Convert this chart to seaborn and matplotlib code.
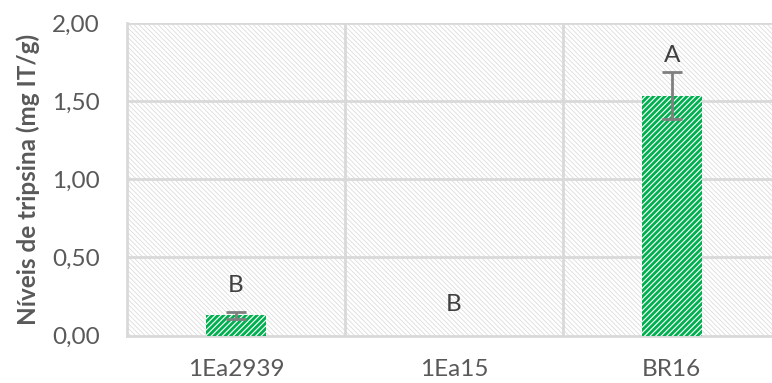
import matplotlib
matplotlib.use("Agg")
import matplotlib.pyplot as plt
import seaborn as sns
import pandas as pd
from matplotlib.patches import Rectangle
from matplotlib.ticker import FuncFormatter

# Data
genotypes = ["1Ea2939", "1Ea15", "BR16"]
tripsina = [0.13, 0.0, 1.535]
erro = [0.022, 0.0, 0.15]
letras = ["B", "B", "A"]
letra_y = [0.32, 0.20, 1.79]

df = pd.DataFrame({"genotipo": genotypes, "tripsina": tripsina})

sns.set_theme(style="white")
plt.rcParams["font.family"] = ["Lato", "DejaVu Sans"]
plt.rcParams["hatch.linewidth"] = 2.0

GREEN = "#00B050"
GRID = "#D9D9D9"
TEXT = "#595959"
FS = 17.5

fig = plt.figure(figsize=(7.72, 3.83), dpi=100)
ax = fig.add_axes([127 / 772, 1 - 335.5 / 383, 1 - 127 / 772, (335.5 - 23) / 383])

sns.barplot(data=df, x="genotipo", y="tripsina", ax=ax, color=GREEN,
            width=0.275, errorbar=None, zorder=3)

for bar in ax.patches:
    bar.set_facecolor("white")
    bar.set_edgecolor(GREEN)
    bar.set_linewidth(0)
    bar.set_hatch("/" * 6)
    if hasattr(bar, "set_hatch_linewidth"):
        bar.set_hatch_linewidth(2.0)

# hatched plot-area background
bg = Rectangle((0, 0), 1, 1, transform=ax.transAxes, facecolor="white",
               edgecolor="#DADADA", linewidth=0, hatch="\\" * 7, zorder=0)
if hasattr(bg, "set_hatch_linewidth"):
    bg.set_hatch_linewidth(0.55)
ax.add_patch(bg)

xs = list(range(len(genotypes)))
ax.errorbar([xs[0], xs[2]], [tripsina[0], tripsina[2]], yerr=[erro[0], erro[2]],
            fmt="none", ecolor="#7F7F7F", elinewidth=2, capsize=7, capthick=2,
            zorder=4)

for x, t, yy in zip(xs, letras, letra_y):
    ax.text(x, yy, t, ha="center", va="center", fontsize=FS, color="#404040",
            zorder=5)

ax.set_xlim(-0.5, 2.46)
ax.set_ylim(0, 2.0)
ax.set_yticks([0, 0.5, 1.0, 1.5, 2.0])
ax.yaxis.set_major_formatter(FuncFormatter(lambda v, p: f"{v:.2f}".replace(".", ",")))

for y in [0.5, 1.0, 1.5, 2.0]:
    ax.axhline(y, color=GRID, lw=2, zorder=1)
for x in [0.5, 1.5]:
    ax.axvline(x, color=GRID, lw=2, zorder=1)

for side in ["top", "right"]:
    ax.spines[side].set_visible(False)
for side in ["left", "bottom"]:
    ax.spines[side].set_color(GRID)
    ax.spines[side].set_linewidth(2)
    ax.spines[side].set_zorder(2)

ax.tick_params(axis="both", length=0, labelsize=FS, labelcolor=TEXT)
ax.tick_params(axis="y", pad=19.5)
ax.tick_params(axis="x", pad=17)
ax.set_xlabel("")
ax.set_ylabel("Níveis de tripsina (mg IT/g)", fontsize=FS, fontweight="bold",
              color=TEXT, labelpad=9)

fig.savefig("out.png", dpi=100)
